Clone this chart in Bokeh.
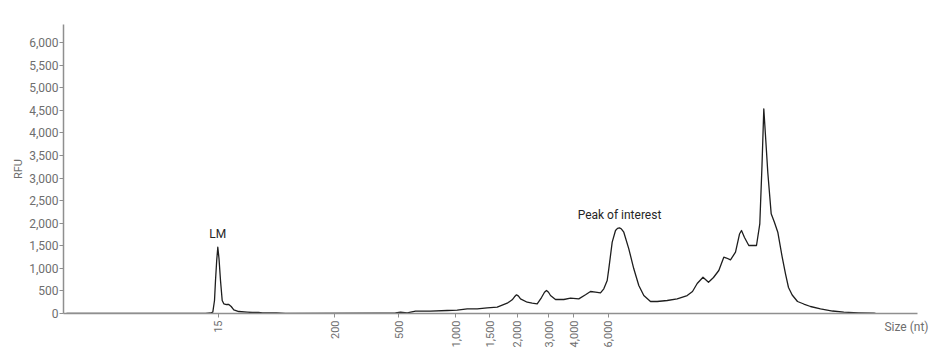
import math
from bokeh.plotting import figure
from bokeh.models import FixedTicker, NumeralTickFormatter, ColumnDataSource, Range1d, LabelSet, Label
from bokeh.core.properties import value
from bokeh.embed import file_html
from bokeh.resources import INLINE

# migration position (arbitrary time units) and signal (RFU)
migration = [0.3, 14.2, 14.7, 14.93, 15.1, 15.2, 15.32, 15.43, 15.55, 15.7, 15.87, 16.03, 16.3, 16.53,
             16.77, 17.03, 17.53, 18.37, 18.9, 19.5, 19.9, 20.7, 21.3, 22.2,
             31.7, 33.2, 33.7, 34.37, 35.2, 36.7, 38.37, 39.37, 40.37, 41.37, 42.37, 43.37, 44.37,
             44.87, 45.1, 45.3, 45.5, 45.7, 46.37, 46.87, 47.37, 47.8, 48.1, 48.3, 48.5, 48.7, 49.2, 50.03, 50.7, 51.53,
             52.2, 52.7, 53.2, 53.7, 54.03, 54.37, 54.53, 54.87, 55.2, 55.4, 55.6, 55.8, 56.03, 56.53, 57.03,
             57.53, 58.03, 58.7, 59.37, 60.37, 61.37, 62.37, 62.9, 63.37, 63.95, 64.5, 65.0, 65.53,
             66.03, 66.3, 66.7, 67.2, 67.6, 67.8, 68.1, 68.53, 69.3, 69.63, 69.85, 70.03, 70.23, 70.43,
             70.77, 71.1, 71.43, 71.87, 72.2, 72.5, 72.87, 73.4, 74.03, 74.7, 75.7, 76.9, 78.03,
             79.5, 81.03, 81.2]
rfu = [0, 0, 11, 29, 288, 731, 1173, 1468, 1218, 731, 288, 215, 199, 199,
       155, 82, 44, 29, 22, 22, 11, 15, 11, 0,
       7, 15, 29, 15, 51, 51, 66, 73, 104, 104, 126, 139, 228,
       303, 370, 414, 385, 325, 250, 228, 215, 354, 470, 509, 470, 398, 310, 310, 339, 325,
       414, 487, 472, 458, 547, 731, 990, 1579, 1838, 1885, 1897, 1870, 1800, 1432, 990,
       620, 398, 266, 266, 288, 325, 398, 487, 664, 804, 693, 797, 952,
       1246, 1229, 1189, 1357, 1760, 1838, 1683, 1506, 1506, 1986, 3277, 4532, 3830, 3122,
       2207, 2015, 1800, 1247, 879, 576, 410, 266, 210, 155, 104, 55, 29,
       15, 7, 0]

# size ladder ticks (migration position -> size label)
tick_pos = [15.47, 27.1, 33.53, 39.2, 42.63, 45.37, 48.53, 51.03, 54.47]
tick_labels = ["15", "200", "500", "1,000", "1,500", "2,000", "3,000", "4,000", "6,000"]

y_ticks = [0, 500, 1000, 1500, 2000, 2500, 3000, 3500, 4000, 4500, 5000, 5500, 6000]

ann_text = ["LM", "Peak of interest"]
ann_x = [15.43, 55.6]
ann_y = [1468, 1897]

FONT = "Roboto"
AX = "#8f8f8f"
TXT = "#6e6e6e"

p = figure(width=937, height=352, output_backend="svg", toolbar_location=None,
           x_range=Range1d(0, 85.4), y_range=Range1d(0, 6400),
           min_border_left=63, min_border_right=20, min_border_top=24, min_border_bottom=39)
p.outline_line_color = None
p.xgrid.visible = False
p.ygrid.visible = False
p.background_fill_color = "white"
p.border_fill_color = "white"

p.line(migration, rfu, line_color="#1e1e1e", line_width=1.3, line_join="round")

# x axis
xa = p.xaxis[0]
xa.ticker = FixedTicker(ticks=tick_pos)
xa.major_label_overrides = dict(zip(tick_pos, tick_labels))
xa.major_label_orientation = math.pi / 2
xa.axis_line_color = AX
xa.axis_line_width = 1.5
xa.major_tick_line_color = AX
xa.major_tick_in = 0
xa.major_tick_out = 4
xa.minor_tick_line_color = None
xa.major_label_text_font = FONT
xa.major_label_text_font_size = "11px"
xa.major_label_text_color = TXT
xa.major_label_standoff = 3

# y axis
ya = p.yaxis[0]
ya.ticker = FixedTicker(ticks=y_ticks)
ya.formatter = NumeralTickFormatter(format="0,0")
ya.axis_line_color = AX
ya.axis_line_width = 1.5
ya.major_tick_line_color = AX
ya.major_tick_in = 0
ya.major_tick_out = 4
ya.minor_tick_line_color = None
ya.major_label_text_font = FONT
ya.major_label_text_font_size = "12px"
ya.major_label_text_color = TXT
ya.major_label_standoff = 1
ya.axis_label = "RFU"
ya.axis_label_text_font = FONT
ya.axis_label_text_font_size = "11px"
ya.axis_label_text_font_style = "normal"
ya.axis_label_text_color = TXT
ya.axis_label_standoff = 1

# peak annotations
src = ColumnDataSource(dict(x=ann_x, y=ann_y, t=ann_text))
p.add_layout(LabelSet(x="x", y="y", text="t", source=src, text_align="center",
                      text_baseline="bottom", y_offset=6, text_font=value(FONT),
                      text_font_size=value("12px"), text_color="#262626"))

# x axis title, right of the axis end, at the tick-label level
# (hosted in the top side panel so it is not clipped to the plot frame)
p.add_layout(Label(x=865, y=-302, x_units="screen", y_units="screen", text="Size (nt)",
                   text_align="right", text_baseline="middle",
                   text_font=FONT, text_font_size="12px", text_color=TXT), "above")

open("out.html", "w").write(file_html(p, INLINE))
